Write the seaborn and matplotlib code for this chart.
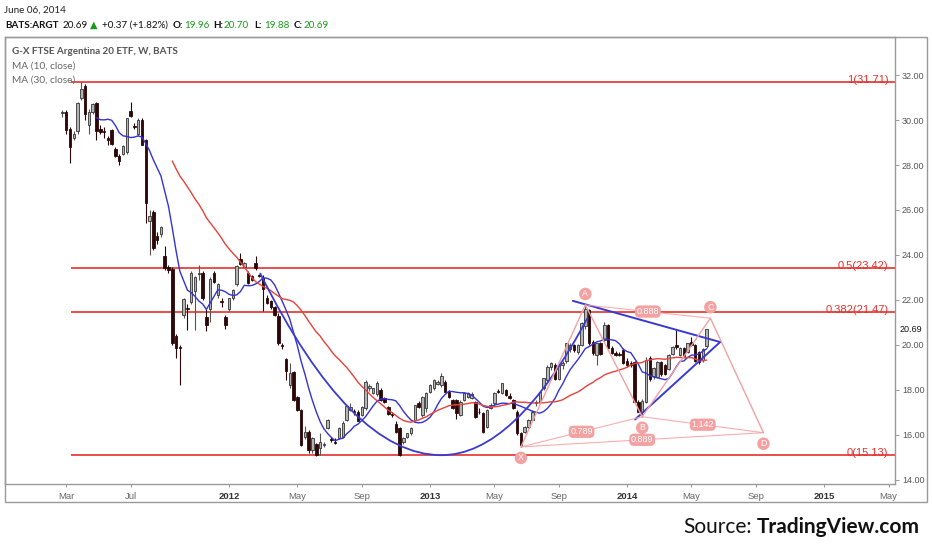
import numpy as np
import pandas as pd
import matplotlib
matplotlib.use("Agg")
import matplotlib.pyplot as plt
import matplotlib.dates as mdates
from matplotlib.path import Path
from matplotlib.patches import PathPatch, Rectangle
import seaborn as sns

# ---------------- data ----------------
first_week = "2011-02-28"
n_weeks = 171

opens = [30.30, 30.35, 29.60, 29.20, 29.50, 31.00, 31.50, 29.80, 30.35, 30.75,
         29.60, 29.50, 29.20, 29.55, 28.70, 28.40, 28.50, 28.60, 30.40, 29.75,
         29.40, 30.00, 29.10, 25.50, 25.90, 24.85, 24.95, 23.95, 23.45, 23.36,
         20.40, 19.90, 21.33, 21.65, 21.90, 22.40, 23.15, 23.20, 21.25, 21.60,
         23.20, 22.20, 21.95, 21.25, 21.60, 22.10, 22.70, 23.80, 23.45, 23.20,
         23.05, 23.65, 23.10, 22.96, 22.10, 21.95, 21.70, 21.30, 20.00, 19.36,
         18.22, 18.80, 17.70, 17.11, 15.93, 16.15, 15.33, 15.60, 15.41, 15.55,
         16.30, 15.80, 15.70, 15.85, 15.90, 16.67, 17.11, 17.05, 17.04, 16.89,
         17.19, 18.10, 17.85, 17.82, 18.00, 17.63, 17.23, 16.95, 16.49, 16.30,
         15.70, 15.90, 16.07, 16.67, 17.41, 16.90, 17.20, 17.93, 18.07, 18.27,
         18.22, 18.37, 17.93, 17.56, 17.56, 16.89, 17.56, 17.70, 17.66, 17.48,
         17.04, 16.96, 16.37, 17.20, 17.41, 17.95, 17.85, 18.00, 17.75, 17.56,
         17.04, 16.07, 16.15, 16.37, 16.67, 17.40, 17.48, 18.07, 18.44, 19.00,
         19.10, 18.50, 19.10, 19.30, 19.80, 20.00, 19.70, 20.00, 20.85, 21.56,
         20.15, 19.56, 20.07, 20.22, 20.90, 19.85, 19.63, 19.60, 19.78, 19.30,
         19.20, 19.26, 17.48, 17.04, 17.48, 19.41, 18.60, 18.59, 19.26, 19.11,
         18.95, 19.60, 20.00, 19.56, 19.85, 19.70, 20.15, 20.00, 19.70, 19.33,
         19.96]
highs = [30.45, 30.45, 29.70, 29.50, 30.80, 31.71, 31.60, 30.50, 30.75, 30.80,
         29.80, 29.70, 29.30, 29.60, 28.80, 28.50, 28.90, 30.10, 30.80, 29.85,
         30.10, 30.10, 29.15, 26.00, 26.00, 25.00, 25.30, 24.40, 23.55, 23.45,
         20.50, 20.00, 22.10, 21.80, 23.30, 23.05, 23.55, 23.30, 21.60, 23.00,
         23.30, 22.75, 22.10, 21.35, 22.10, 22.50, 23.55, 24.10, 23.70, 23.30,
         23.10, 23.95, 23.15, 23.10, 22.20, 22.00, 21.75, 21.40, 20.10, 19.40,
         19.19, 18.85, 17.75, 17.15, 16.40, 16.20, 15.90, 15.65, 16.10, 15.70,
         16.70, 15.90, 15.85, 16.35, 16.60, 17.35, 17.40, 17.15, 17.10, 17.30,
         18.45, 18.25, 18.10, 18.40, 18.10, 17.70, 17.30, 17.00, 16.60, 16.35,
         15.90, 16.10, 16.35, 17.35, 17.50, 17.75, 17.90, 18.25, 18.50, 18.45,
         18.75, 18.45, 18.00, 17.60, 17.60, 17.55, 17.90, 17.90, 17.90, 17.50,
         17.20, 17.00, 17.15, 17.40, 17.90, 18.05, 18.33, 18.05, 17.85, 17.60,
         17.10, 16.15, 16.40, 16.70, 17.10, 17.55, 17.95, 18.55, 19.10, 19.25,
         19.20, 19.20, 19.30, 20.10, 20.10, 20.05, 20.05, 21.00, 21.78, 21.60,
         20.20, 20.10, 20.15, 21.00, 20.95, 19.95, 19.75, 19.70, 19.85, 19.40,
         19.30, 19.30, 17.55, 17.60, 19.45, 19.50, 19.00, 19.30, 19.30, 19.15,
         19.60, 19.95, 20.67, 19.90, 19.90, 20.10, 20.35, 20.05, 19.75, 19.85,
         20.70]
lows = [30.15, 29.40, 28.10, 29.10, 29.40, 30.90, 30.00, 29.40, 30.25, 29.10,
        29.40, 29.20, 28.90, 28.90, 28.35, 28.00, 28.45, 28.50, 30.15, 29.60,
        29.30, 28.90, 25.40, 24.00, 24.20, 24.50, 24.80, 23.35, 23.20, 20.00,
        19.40, 18.20, 21.20, 20.67, 21.80, 20.67, 22.90, 22.00, 20.60, 21.00,
        22.75, 22.10, 21.70, 20.70, 21.50, 22.00, 22.60, 23.55, 23.40, 22.70,
        22.85, 23.35, 23.00, 21.50, 21.80, 21.60, 21.30, 20.00, 19.80, 18.45,
        18.10, 17.50, 17.05, 15.50, 15.80, 15.20, 15.20, 15.05, 15.11, 15.45,
        16.25, 15.70, 15.60, 15.80, 15.85, 16.60, 17.05, 16.90, 16.60, 16.85,
        17.10, 17.95, 17.80, 17.75, 17.50, 17.40, 16.90, 16.80, 16.10, 15.05,
        15.60, 15.85, 16.00, 16.60, 17.20, 16.80, 17.00, 17.85, 18.00, 18.20,
        18.15, 17.90, 17.65, 17.15, 16.70, 16.85, 17.50, 17.65, 17.60, 16.75,
        16.95, 16.10, 16.30, 17.15, 17.35, 17.85, 17.80, 17.75, 17.60, 17.15,
        16.00, 15.45, 16.10, 16.30, 16.60, 17.30, 17.40, 18.00, 18.40, 18.90,
        18.45, 18.45, 18.95, 19.20, 19.70, 19.70, 19.60, 19.95, 20.70, 20.00,
        19.55, 19.10, 19.55, 20.15, 19.80, 19.60, 19.50, 19.50, 19.15, 19.00,
        19.00, 17.40, 17.00, 16.80, 17.40, 18.40, 18.50, 18.55, 18.60, 18.65,
        18.90, 19.55, 19.80, 19.50, 19.45, 19.65, 19.95, 19.25, 19.15, 19.25,
        19.88]
closes = [30.30, 29.55, 28.80, 29.40, 30.75, 31.40, 30.25, 30.35, 30.70, 29.50,
          29.45, 29.45, 29.10, 28.95, 28.40, 28.20, 28.85, 30.10, 30.20, 29.70,
          30.00, 28.90, 26.30, 25.75, 24.30, 24.65, 25.25, 23.40, 23.35, 20.07,
          19.85, 19.85, 22.03, 21.60, 23.20, 23.00, 23.20, 22.10, 20.90, 22.95,
          22.80, 22.70, 21.90, 20.90, 22.07, 22.45, 23.50, 23.60, 23.66, 22.75,
          22.90, 23.40, 23.05, 22.50, 21.85, 21.70, 21.33, 20.07, 19.95, 18.86,
          18.77, 17.56, 17.11, 15.56, 16.15, 15.33, 15.85, 15.11, 15.70, 15.60,
          16.67, 15.78, 15.66, 16.30, 16.55, 17.29, 17.26, 17.04, 16.64, 17.23,
          18.37, 18.18, 18.07, 18.30, 17.56, 17.48, 16.93, 16.89, 16.15, 15.11,
          15.85, 16.07, 16.30, 17.33, 17.26, 17.70, 17.85, 18.22, 18.44, 18.37,
          18.62, 17.93, 17.70, 17.19, 16.96, 17.48, 17.85, 17.85, 17.82, 16.81,
          17.00, 16.15, 17.11, 17.33, 17.85, 17.93, 18.30, 17.78, 17.63, 17.19,
          16.07, 15.56, 16.37, 16.67, 17.04, 17.48, 17.90, 18.52, 19.04, 19.20,
          18.50, 19.10, 19.20, 20.07, 20.00, 19.78, 20.00, 20.96, 21.60, 20.07,
          19.63, 20.07, 19.60, 20.90, 19.85, 19.63, 19.56, 19.56, 19.19, 19.10,
          19.10, 17.48, 17.04, 17.50, 19.33, 18.50, 18.96, 19.26, 18.70, 18.72,
          19.56, 19.93, 19.90, 19.85, 19.50, 20.07, 20.00, 19.30, 19.26, 19.80,
          20.69]

ma_windows = [10, 30]
ma_labels = ["MA (10, close)", "MA (30, close)"]

fib_ratios = ["1", "0.5", "0.382", "0"]
fib_levels = [31.71, 23.42, 21.47, 15.13]
fib_start = "2011-03-15"

pattern_names = ["X", "A", "B", "C", "D"]
pattern_dates = ["2013-06-24", "2013-10-21", "2014-02-03", "2014-06-09", "2014-09-15"]
pattern_prices = [15.47, 21.78, 16.81, 21.19, 16.10]
pattern_label_side = [-1, 1, -1, 1, -1]
ratio_pairs = [("X", "B"), ("A", "C"), ("B", "D"), ("X", "D")]
ratio_texts = ["0.789", "0.888", "1.142", "0.889"]

trend_upper_dates = ["2013-09-28", "2014-06-27"]
trend_upper_prices = [21.96, 20.13]
trend_lower_dates = ["2014-01-21", "2014-06-27"]
trend_lower_prices = [16.69, 20.13]

arc_dates = ["2012-02-28", "2013-01-28", "2013-10-25"]
arc_prices = [23.20, 15.10, 21.20]

y_ticks = [14, 16, 18, 20, 22, 24, 26, 28, 30, 32]
last_price = 20.69
x_tick_dates = ["2011-03-07", "2011-07-04", "2012-01-02", "2012-05-07", "2012-09-03",
                "2013-01-07", "2013-05-06", "2013-09-02", "2014-01-06", "2014-05-05",
                "2014-09-01", "2015-01-05", "2015-05-04"]
x_tick_labels = ["Mar", "Jul", "2012", "May", "Sep", "2013", "May", "Sep", "2014",
                 "May", "Sep", "2015", "May"]
x_range = ["2010-11-14", "2015-05-16"]
y_range = [13.82, 33.69]

# ---------------- style ----------------
sns.set_theme(style="white")
plt.rcParams["font.family"] = ["Lato", "DejaVu Sans"]
CHART_FONT = ["Liberation Sans", "DejaVu Sans"]

W, H = 932, 550
fig = plt.figure(figsize=(W / 100, H / 100), dpi=100)
fig.patch.set_facecolor("white")

def fx(px):
    return px / W

def fy(py):
    return 1 - py / H

ax = fig.add_axes([fx(5), fy(484), fx(895) - fx(5), fy(37) - fy(484)])
ax.set_facecolor("white")

dates = pd.date_range(first_week, periods=n_weeks, freq="7D")
xs = mdates.date2num(dates.to_pydatetime())
o = np.array(opens); hh = np.array(highs); ll = np.array(lows); c = np.array(closes)
up = c >= o

# fib lines
fib_x0 = mdates.date2num(pd.Timestamp(fib_start).to_pydatetime())
xr = [mdates.date2num(pd.Timestamp(d).to_pydatetime()) for d in x_range]
ax.hlines(fib_levels, fib_x0, xr[1], colors="#e8302c", linewidth=1.2, zorder=2)
for r, lv in zip(fib_ratios, fib_levels):
    ax.annotate(f"{r}({lv:.2f})", xy=(0.9925, lv), xycoords=("axes fraction", "data"),
                xytext=(0, 2), textcoords="offset pixels", ha="right", va="center",
                color="#e8302c", fontsize=8, family=CHART_FONT, zorder=6)

# candles
wick_col = np.where(up, "#555555", "#2a0808")
ax.vlines(xs, ll, hh, colors=wick_col, linewidth=0.8, zorder=3)
body_b = np.minimum(o, c)
body_h = np.maximum(np.abs(c - o), 0.04)
ax.bar(xs[up], body_h[up], bottom=body_b[up], width=4.6, color="#b4b4b4",
       edgecolor="#333333", linewidth=0.6, zorder=4)
ax.bar(xs[~up], body_h[~up], bottom=body_b[~up], width=4.6, color="#2c0707",
       edgecolor="#2c0707", linewidth=0.6, zorder=4)

# moving averages (seaborn)
df = pd.DataFrame({"x": xs, "close": c})
ma_colors = ["#3333d6", "#e8413a"]
for wdw, col in zip(ma_windows, ma_colors):
    df[f"ma{wdw}"] = df["close"].rolling(wdw).mean()
    sub = df.dropna(subset=[f"ma{wdw}"])
    sns.lineplot(data=sub, x="x", y=f"ma{wdw}", color=col, linewidth=1.0,
                 estimator=None, sort=False, ax=ax, zorder=5)

# arc drawing (two quadratic halves meeting at the vertex)
ad = [mdates.date2num(pd.Timestamp(d).to_pydatetime()) for d in arc_dates]
p0 = (ad[0], arc_prices[0]); v = (ad[1], arc_prices[1]); p2 = (ad[2], arc_prices[2])
verts = [p0, ((p0[0] + v[0]) / 2, v[1]), v, ((v[0] + p2[0]) / 2, v[1]), p2]
codes = [Path.MOVETO, Path.CURVE3, Path.CURVE3, Path.CURVE3, Path.CURVE3]
ax.add_patch(PathPatch(Path(verts, codes), fill=False, edgecolor="#3a3ad2",
                       linewidth=1.3, zorder=5))

# trend lines
for ds, ps in [(trend_upper_dates, trend_upper_prices), (trend_lower_dates, trend_lower_prices)]:
    tx = [mdates.date2num(pd.Timestamp(d).to_pydatetime()) for d in ds]
    ax.plot(tx, ps, color="#3a3ad2", linewidth=1.4, zorder=5)

# XABCD pattern
pink = "#f3a1a1"
pts = {n: (mdates.date2num(pd.Timestamp(d).to_pydatetime()), p)
       for n, d, p in zip(pattern_names, pattern_dates, pattern_prices)}
px_ = [pts[n][0] for n in pattern_names]
py_ = [pts[n][1] for n in pattern_names]
ax.plot(px_, py_, color=pink, linewidth=1.0, zorder=5)
for (a, b), t in zip(ratio_pairs, ratio_texts):
    ax.plot([pts[a][0], pts[b][0]], [pts[a][1], pts[b][1]], color=pink,
            linewidth=0.8, alpha=0.85, zorder=5)
    mx = (pts[a][0] + pts[b][0]) / 2; my = (pts[a][1] + pts[b][1]) / 2
    ax.text(mx, my, t, ha="center", va="center", color="white", fontsize=6.5,
            family=CHART_FONT, zorder=7,
            bbox=dict(boxstyle="round,pad=0.18,rounding_size=0.5", fc=pink, ec="none"))
for n, side in zip(pattern_names, pattern_label_side):
    ax.annotate(n, xy=pts[n], xytext=(0, 11 * side), textcoords="offset pixels",
                ha="center", va="center", color="white", fontsize=6.3, family=CHART_FONT,
                zorder=7, bbox=dict(boxstyle="circle,pad=0.2", fc=pink, ec="none"))

# axes
ax.set_xlim(xr)
ax.set_ylim(y_range)
ax.set_xlabel(""); ax.set_ylabel("")
ax.yaxis.tick_right()
ax.set_yticks(y_ticks)
ax.set_yticklabels([f"{t:.2f}" for t in y_ticks], family=CHART_FONT, fontsize=6.5, color="#555555")
ax.tick_params(axis="y", which="both", direction="out", length=3, width=0.6,
               color="#888888", pad=2, right=True, left=False)
xt = [mdates.date2num(pd.Timestamp(d).to_pydatetime()) for d in x_tick_dates]
ax.set_xticks(xt)
ax.set_xticklabels(x_tick_labels, family=CHART_FONT, fontsize=6.8)
for lab in ax.get_xticklabels():
    if lab.get_text().isdigit():
        lab.set_fontweight("bold"); lab.set_color("#333333")
    else:
        lab.set_color("#666666")
ax.tick_params(axis="x", direction="out", length=2, width=0.6, color="#888888", pad=4,
               bottom=True)
for s in ax.spines.values():
    s.set_color("#9a9a9a"); s.set_linewidth(1.0)
ax.grid(False)
ax.annotate(f"{last_price:.2f}", xy=(1.0, last_price), xycoords=("axes fraction", "data"),
            xytext=(5, 0), textcoords="offset pixels", ha="left", va="center",
            color="#111111", fontsize=6.5, family=CHART_FONT, annotation_clip=False)

# outer frame
fig.patches.append(Rectangle((fx(5), fy(502)), fx(927) - fx(5), fy(37) - fy(502),
                             transform=fig.transFigure, fill=False, edgecolor="#9a9a9a",
                             linewidth=1.0))

# header texts
HF = 7.1
fig.text(fx(4), fy(10), "June 06, 2014", fontsize=HF, color="#222222", va="center")
hdr = [(5, "BATS:ARGT", "bold", "#111111"), (63, "20.69", "normal", "#111111"),
       (90, "\u25B2", "normal", "#1a9a1a"), (102, "+0.37 (+1.82%)", "normal", "#111111"),
       (173, "O:", "bold", "#111111"), (184, "19.96", "normal", "#1a9a1a"),
       (213, "H:", "bold", "#111111"), (224, "20.70", "normal", "#1a9a1a"),
       (254, "L:", "bold", "#111111"), (264, "19.88", "normal", "#1a9a1a"),
       (294, "C:", "bold", "#111111"), (304, "20.69", "normal", "#1a9a1a")]
for xp, t, wgt, col in hdr:
    fig.text(fx(xp), fy(25), t, fontsize=HF, fontweight=wgt, color=col, va="center")

fig.text(fx(12), fy(52), "G-X FTSE Argentina 20 ETF, W, BATS", fontsize=HF,
         fontweight="bold", color="#555555", va="center")
for k, lab in enumerate(ma_labels):
    fig.text(fx(12), fy(66 + 14 * k), lab, fontsize=HF + 0.2, color="#666666", va="center")

fig.text(fx(752), fy(527), "Source:", fontsize=15, color="#111111", ha="right", va="center")
fig.text(fx(920), fy(527), "TradingView.com", fontsize=15, fontweight="bold",
         color="#111111", ha="right", va="center")

fig.savefig("out.png", dpi=100, facecolor="white")
